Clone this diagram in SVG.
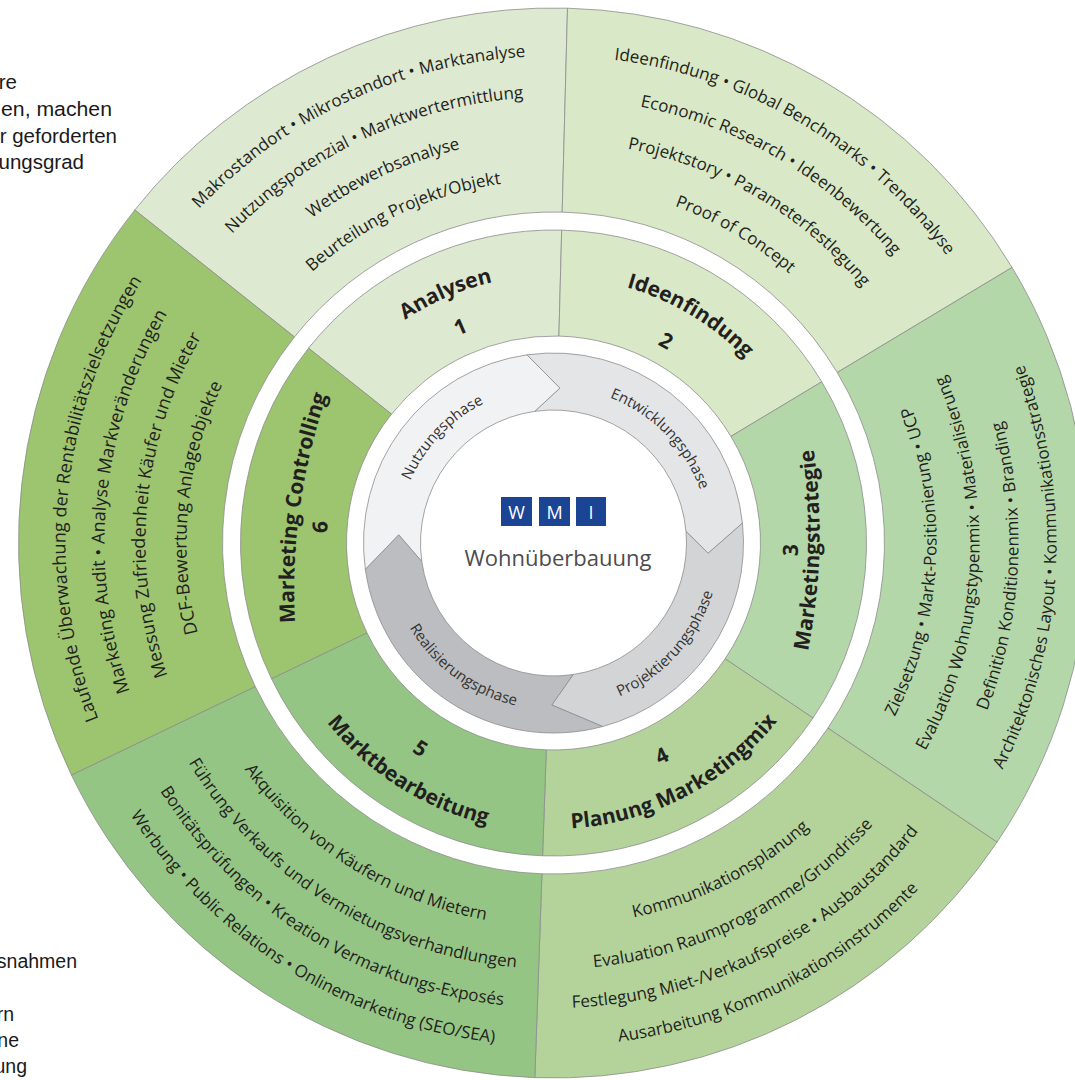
<svg xmlns="http://www.w3.org/2000/svg" width="1075" height="1080" viewBox="0 0 1075 1080">
<style>
.seg{stroke:#8d8d8d;stroke-width:0.8}
.arw{stroke:#8d8d8d;stroke-width:0.8}
.t{font-family:"Open Sans","Noto Sans",sans-serif;font-size:17px;fill:#231f20;text-anchor:middle}
.t18{font-family:"Open Sans","Noto Sans",sans-serif;font-size:18px;fill:#231f20;text-anchor:middle}
.b{font-family:"Open Sans","Noto Sans",sans-serif;font-size:21px;font-weight:700;fill:#231f20;text-anchor:middle}
.p{font-family:"Open Sans","Noto Sans",sans-serif;font-size:15px;fill:#333333;text-anchor:middle}
.side{font-family:"Liberation Sans",Arial,sans-serif;font-size:20.5px;fill:#1a1a1a;text-anchor:end}
.sideS{font-family:"Liberation Sans",Arial,sans-serif;font-size:20.5px;fill:#1a1a1a;text-anchor:start}
.side2{font-family:"Liberation Sans",Arial,sans-serif;font-size:19.5px;fill:#1a1a1a;text-anchor:end}
.logo{font-family:"Open Sans","Noto Sans",sans-serif;font-size:18px;fill:#ffffff;text-anchor:middle}
</style>
<defs>
<path id="c488" d="M 130.879 299 A 488 488 0 0 1 976.121 299"/>
<path id="c487" d="M 131.745 299.5 A 487 487 0 0 1 975.255 299.5"/>
<path id="c449" d="M 164.655 318.5 A 449 449 0 0 1 942.345 318.5"/>
<path id="c446" d="M 167.253 320 A 446 446 0 0 1 939.747 320"/>
<path id="c445" d="M 168.119 320.5 A 445 445 0 0 1 938.881 320.5"/>
<path id="c408" d="M 200.162 339 A 408 408 0 0 1 906.838 339"/>
<path id="c405" d="M 202.760 340.5 A 405 405 0 0 1 904.240 340.5"/>
<path id="c401" d="M 206.224 342.5 A 401 401 0 0 1 900.776 342.5"/>
<path id="c367" d="M 235.669 359.5 A 367 367 0 0 1 871.331 359.5"/>
<path id="c363" d="M 239.133 361.5 A 363 363 0 0 1 867.867 361.5"/>
<path id="c358" d="M 243.463 364 A 358 358 0 0 1 863.537 364"/>
<path id="c268" d="M 321.405 409 A 268 268 0 0 1 785.595 409"/>
<path id="c266" d="M 323.137 410 A 266 266 0 0 1 783.863 410"/>
<path id="f256" d="M 253.5 367.4 A 600 600 0 0 1 853.5 367.4"/>
<path id="c156" d="M 418.4 465 A 156 156 0 0 1 688.6 465"/>
<path id="a383" d="M 221.812 734.5 A 383 383 0 0 0 885.188 734.5"/>
<path id="a426" d="M 184.573 756 A 426 426 0 0 0 922.427 756"/>
<path id="a465" d="M 150.798 775.5 A 465 465 0 0 0 956.202 775.5"/>
<path id="a503" d="M 117.889 794.5 A 503 503 0 0 0 989.111 794.5"/>
<path id="f266" d="M 253.5 728.6 A 600 600 0 0 0 853.5 728.6"/>
<path id="a286" d="M 305.817 686 A 286 286 0 0 0 801.183 686"/>
<path id="a289" d="M 303.219 687.5 A 289 289 0 0 0 803.781 687.5"/>
<path id="a167" d="M 408.874 626.5 A 167 167 0 0 0 698.126 626.5"/>
</defs>
<rect width="1075" height="1080" fill="#ffffff"/>

<g id="side-text">
<text class="side" x="17" y="89">re</text>
<text class="sideS" x="1" y="116" textLength="111" lengthAdjust="spacingAndGlyphs">en, machen</text>
<text class="side" x="117" y="143">r geforderten</text>
<text class="side" x="84" y="169">ungsgrad</text>
<text class="side2" x="77" y="968">snahmen</text>
<text class="side2" x="14" y="1021">rn</text>
<text class="side2" x="19" y="1047">ne</text>
<text class="side2" x="27" y="1073">ung</text>
</g>

<g id="seg1">
<path class="seg" fill="#dde9d0" d="M 134.80 209.96 A 535 535 0 0 1 567.51 8.18 L 562.17 212.11 A 331 331 0 0 0 294.46 336.95 Z"/>
<path class="seg" fill="#dde9d0" d="M 308.54 348.15 A 313 313 0 0 1 561.69 230.11 L 558.92 336.07 A 207 207 0 0 0 391.50 414.14 Z"/>
<g transform="rotate(-25 553.5 543)">
<text class="t"><textPath href="#c487" startOffset="50%">Makrostandort • Mikrostandort • Marktanalyse</textPath></text>
<text class="t"><textPath href="#c446" startOffset="50%">Nutzungspotenzial • Marktwertermittlung</textPath></text>
<text class="t"><textPath href="#c405" startOffset="50%">Wettbewerbsanalyse</textPath></text>
<text class="t"><textPath href="#c363" startOffset="50%">Beurteilung Projekt/Objekt</textPath></text>
</g>
<text class="b" transform="rotate(-23.4 553.5 543)"><textPath href="#c268" startOffset="50%">Analysen</textPath></text>
<text class="b" x="553.5" y="315" transform="rotate(-23.3 553.5 543)">1</text>
</g>

<g id="seg2">
<path class="seg" fill="#d9e8c6" d="M 567.51 8.18 A 535 535 0 0 1 1012.09 267.45 L 837.22 372.52 A 331 331 0 0 0 562.17 212.11 Z"/>
<path class="seg" fill="#d9e8c6" d="M 561.69 230.11 A 313 313 0 0 1 821.79 381.79 L 730.93 436.39 A 207 207 0 0 0 558.92 336.07 Z"/>
<g transform="rotate(30.5 553.5 543)">
<text class="t"><textPath href="#c487" startOffset="50%">Ideenfindung • Global Benchmarks • Trendanalyse</textPath></text>
<text class="t"><textPath href="#c445" startOffset="50%">Economic Research • Ideenbewertung</textPath></text>
<text class="t"><textPath href="#c401" startOffset="50%">Projektstory • Parameterfestlegung</textPath></text>
<text class="t"><textPath href="#c358" startOffset="50%">Proof of Concept</textPath></text>
</g>
<text class="b" transform="rotate(31 553.5 543)"><textPath href="#c266" startOffset="50%">Ideenfindung</textPath></text>
<text class="b" x="553.5" y="319" transform="rotate(29.1 553.5 543)">2</text>
</g>

<g id="seg3">
<path class="seg" fill="#b4d7a9" d="M 1012.09 267.45 A 535 535 0 0 1 997.04 842.17 L 827.91 728.09 A 331 331 0 0 0 837.22 372.52 Z"/>
<path class="seg" fill="#b4d7a9" d="M 821.79 381.79 A 313 313 0 0 1 812.99 718.03 L 725.11 658.75 A 207 207 0 0 0 730.93 436.39 Z"/>
<g transform="rotate(-87 553.5 543)">
<text class="t"><textPath href="#a383" startOffset="50%">Zielsetzung • Markt-Positionierung • UCP</textPath></text>
<text class="t"><textPath href="#a426" startOffset="50%">Evaluation Wohnungstypenmix • Materialisierung</textPath></text>
<text class="t"><textPath href="#a465" startOffset="50%">Definition Konditionenmix • Branding</textPath></text>
<text class="t"><textPath href="#a503" startOffset="50%">Architektonisches Layout • Kommunikationsstrategie</textPath></text>
</g>
<text class="b" transform="rotate(-88.4 553.5 543)"><textPath href="#f266" startOffset="50%">Marketingstrategie</textPath></text>
<text class="b" x="553.5" y="787.6" transform="rotate(-88.3 553.5 543)">3</text>
</g>

<g id="seg4">
<path class="seg" fill="#b3d39b" d="M 997.04 842.17 A 535 535 0 0 1 534.83 1077.67 L 541.95 873.80 A 331 331 0 0 0 827.91 728.09 Z"/>
<path class="seg" fill="#b3d39b" d="M 812.99 718.03 A 313 313 0 0 1 542.58 855.81 L 546.28 749.87 A 207 207 0 0 0 725.11 658.75 Z"/>
<g transform="rotate(-27 553.5 543)">
<text class="t"><textPath href="#a383" startOffset="50%">Kommunikationsplanung</textPath></text>
<text class="t"><textPath href="#a426" startOffset="50%">Evaluation Raumprogramme/Grundrisse</textPath></text>
<text class="t"><textPath href="#a465" startOffset="50%">Festlegung Miet-/Verkaufspreise • Ausbaustandard</textPath></text>
<text class="t"><textPath href="#a503" startOffset="50%">Ausarbeitung Kommunikationsinstrumente</textPath></text>
</g>
<text class="b" transform="rotate(-27.5 553.5 543)"><textPath href="#a286" startOffset="50%">Planung Marketingmix</textPath></text>
<text class="b" x="553.5" y="789" transform="rotate(-27 553.5 543)">4</text>
</g>

<g id="seg5">
<path class="seg" fill="#95c584" d="M 534.83 1077.67 A 535 535 0 0 1 71.42 775.01 L 255.24 686.54 A 331 331 0 0 0 541.95 873.80 Z"/>
<path class="seg" fill="#95c584" d="M 542.58 855.81 A 313 313 0 0 1 271.46 678.74 L 366.98 632.77 A 207 207 0 0 0 546.28 749.87 Z"/>
<g transform="rotate(32 553.5 543)">
<text class="t"><textPath href="#a383" startOffset="50%">Akquisition von Käufern und Mietern</textPath></text>
<text class="t"><textPath href="#a426" startOffset="50%">Führung Verkaufs und Vermietungsverhandlungen</textPath></text>
<text class="t"><textPath href="#a465" startOffset="50%">Bonitätsprüfungen • Kreation Vermarktungs-Exposés</textPath></text>
<text class="t"><textPath href="#a503" startOffset="50%">Werbung • Public Relations • Onlinemarketing (SEO/SEA)</textPath></text>
</g>
<text class="b" transform="rotate(32.5 553.5 543)"><textPath href="#a289" startOffset="50%">Marktbearbeitung</textPath></text>
<text class="b" x="553.5" y="795" transform="rotate(32.9 553.5 543)">5</text>
</g>

<g id="seg6">
<path class="seg" fill="#9dc46f" d="M 71.42 775.01 A 535 535 0 0 1 134.80 209.96 L 294.46 336.95 A 331 331 0 0 0 255.24 686.54 Z"/>
<path class="seg" fill="#9dc46f" d="M 271.46 678.74 A 313 313 0 0 1 308.54 348.15 L 391.50 414.14 A 207 207 0 0 0 366.98 632.77 Z"/>
<g transform="rotate(275.7 553.5 543)">
<text class="t18"><textPath href="#c488" startOffset="50%">Laufende Überwachung der Rentabilitätszielsetzungen</textPath></text>
<text class="t18"><textPath href="#c449" startOffset="50%">Marketing Audit • Analyse Markveränderungen</textPath></text>
<text class="t18"><textPath href="#c408" startOffset="50%">Messung Zufriedenheit Käufer und Mieter</textPath></text>
<text class="t18"><textPath href="#c367" startOffset="50%">DCF-Bewertung Anlageobjekte</textPath></text>
</g>
<text class="b" transform="rotate(278 553.5 543)"><textPath href="#f256" startOffset="50%">Marketing Controlling</textPath></text>
<text class="b" x="553.5" y="316.5" transform="rotate(273.9 553.5 543)">6</text>
</g>

<g id="phases">
<g id="nutzungsphase">
<path class="arw" fill="#f1f2f4" d="M 365.35 569.44 A 190 190 0 0 1 527.06 354.85 L 559.99 388.14 L 534.99 411.29 A 133 133 0 0 0 421.79 561.51 L 398.71 534.89 Z"/>
<text class="p" transform="rotate(313.5 553.5 543)"><textPath href="#c156" startOffset="50%">Nutzungsphase</textPath></text>
</g>
<g id="entwicklungsphase">
<path class="arw" fill="#e4e5e7" d="M 527.06 354.85 A 190 190 0 0 1 742.46 523.14 L 708.16 553.27 L 685.99 531.41 A 133 133 0 0 0 534.99 411.29 L 559.99 388.14 Z"/>
<text class="p" transform="rotate(45.6 553.5 543)"><textPath href="#c156" startOffset="50%">Entwicklungsphase</textPath></text>
</g>
<g id="projektierungsphase">
<path class="arw" fill="#d3d4d6" d="M 742.46 523.14 A 190 190 0 0 1 602.68 726.53 L 551.80 704.99 L 573.16 674.54 A 133 133 0 0 0 685.99 531.41 L 708.16 553.27 Z"/>
<text class="p" transform="rotate(-48 553.5 543)"><textPath href="#a167" startOffset="50%">Projektierungsphase</textPath></text>
</g>
<g id="realisierungsphase">
<path class="arw" fill="#bcbdc0" d="M 602.68 726.53 A 190 190 0 0 1 365.35 569.44 L 398.71 534.89 L 421.79 561.51 A 133 133 0 0 0 573.16 674.54 L 551.80 704.99 Z"/>
<text class="p" transform="rotate(36.3 553.5 543)"><textPath href="#a167" startOffset="50%">Realisierungsphase</textPath></text>
</g>
</g>

<g id="center">
<rect x="501" y="497" width="31" height="29" fill="#1c4494"/>
<rect x="539" y="497" width="31" height="29" fill="#1c4494"/>
<rect x="576" y="497" width="30" height="29" fill="#1c4494"/>
<text class="logo" x="516.5" y="518.5">W</text>
<text class="logo" x="554.5" y="518.5">M</text>
<text class="logo" x="591" y="518.5">I</text>
<text x="558" y="566" font-family="Open Sans, Noto Sans, sans-serif" font-size="22" fill="#4d4d4d" text-anchor="middle">Wohnüberbauung</text>
</g>
</svg>
